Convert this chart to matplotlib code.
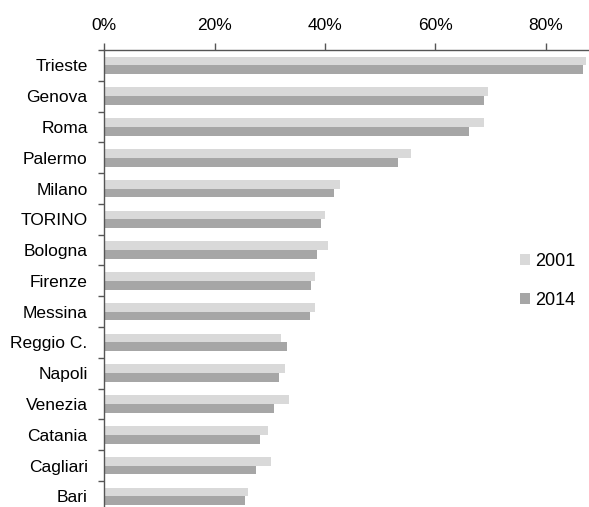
import numpy as np
import matplotlib
matplotlib.use('Agg')
import matplotlib.pyplot as plt
from matplotlib.ticker import FuncFormatter

plt.rcParams['font.family'] = ['Liberation Sans', 'DejaVu Sans']

cities = ['Trieste', 'Genova', 'Roma', 'Palermo', 'Milano', 'TORINO',
          'Bologna', 'Firenze', 'Messina', 'Reggio C.', 'Napoli',
          'Venezia', 'Catania', 'Cagliari', 'Bari']
share_2001 = [87.3, 69.5, 68.8, 55.6, 42.7, 40.0, 40.5, 38.2, 38.2,
              32.0, 32.8, 33.5, 29.7, 30.2, 26.0]
share_2014 = [86.8, 68.8, 66.2, 53.3, 41.7, 39.3, 38.5, 37.5, 37.3,
              33.1, 31.7, 30.8, 28.3, 27.5, 25.5]
x_ticks = [0, 20, 40, 60, 80]

fig = plt.figure(figsize=(5.89, 5.07), dpi=100)
ax = fig.add_axes([104.3 / 589, -4.7 / 507, (588 - 104.3) / 589, 461.7 / 507])

y = np.arange(len(cities))
h = 0.285
ax.barh(y - h / 2, share_2001, height=h, color='#d9d9d9', label='2001')
ax.barh(y + h / 2, share_2014, height=h, color='#a6a6a6', label='2014')

ax.set_ylim(len(cities) - 0.5, -0.5)
ax.set_xlim(0, 87.7)

# category labels centred in bands, ticks on band boundaries
ax.set_yticks(y)
ax.set_yticklabels(cities, fontsize=12.5)
ax.set_yticks(np.arange(len(cities) + 1) - 0.5, minor=True)
ax.tick_params(axis='y', which='major', length=0, pad=12)
ax.tick_params(axis='y', which='minor', length=4.3, width=1, color='#555555')

ax.xaxis.tick_top()
ax.set_xticks(x_ticks)
ax.xaxis.set_major_formatter(FuncFormatter(lambda v, p: '{:.0f}%'.format(v)))
ax.tick_params(axis='x', length=5, width=1, color='#555555', pad=7, labelsize=12.5)

for s in ['right', 'bottom']:
    ax.spines[s].set_visible(False)
for s in ['left', 'top']:
    ax.spines[s].set_color('#555555')
    ax.spines[s].set_linewidth(1)

ax.legend(loc='center left', bbox_to_anchor=(0.825, 0.5), frameon=False,
          fontsize=13, handlelength=0.6, handleheight=0.6,
          handletextpad=0.25, labelspacing=1.2)

fig.savefig('out.png', dpi=100)
